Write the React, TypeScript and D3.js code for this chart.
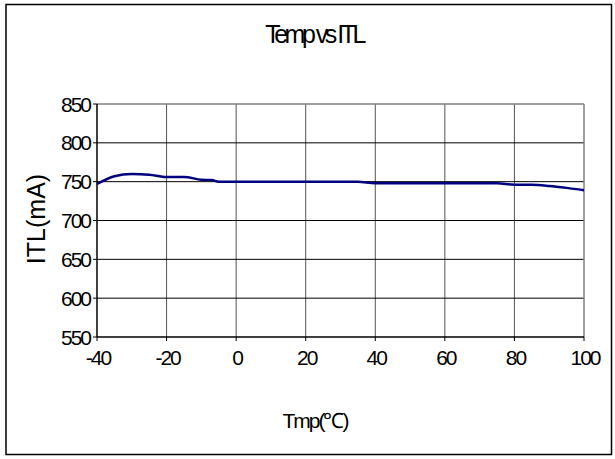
import React from "react";
import * as d3 from "d3";

const temps = [-40, -35, -30, -25, -20, -15, -10, -7, -5, 0, 5, 10, 15, 20, 25, 30, 35, 40, 45, 50, 55, 60, 65, 70, 75, 80, 85, 90, 95, 100];
const itl = [747, 757, 760, 759, 756, 756, 752.5, 752, 750, 750, 750, 750, 750, 750, 750, 750, 750, 748, 748, 748, 748, 748, 748, 748, 748, 746, 746, 744.5, 742, 739];
const xTicks = [-40, -20, 0, 20, 40, 60, 80, 100];
const yTicks = [550, 600, 650, 700, 750, 800, 850];
const title = "Temp vs ITL";
const xTitle = "Tmp(℃)";
const yTitle = "ITL(mA)";

const W = 615, H = 459;
const L = 97, R = 584, T = 104, B = 337;

export default function App() {
  const x = d3.scaleLinear().domain([-40, 100]).range([L, R]);
  const y = d3.scaleLinear().domain([550, 850]).range([B, T]);
  const line = d3.line<number>()
    .x((_, i) => x(temps[i]))
    .y((d) => y(d))
    .curve(d3.curveMonotoneX);
  const font = "'Liberation Sans', Arial, sans-serif";
  return (
    <svg width={W} height={H} style={{ position: "absolute", left: 0, top: 0 }}>
      <rect x={0} y={0} width={W} height={H} fill="#fff" />
      <rect x={6} y={4.5} width={605.5} height={450} fill="none" stroke="#000" strokeWidth={1.5} />
      <text x={314} y={43} textAnchor="middle" fontFamily={font} fontSize={25} letterSpacing={-3.5} fill="#000">{title}</text>
      {xTicks.slice(1, -1).map((t) => (
        <line key={"vx" + t} x1={x(t)} x2={x(t)} y1={T} y2={B} stroke="#555" strokeWidth={1} />
      ))}
      {yTicks.slice(1, -1).map((t) => (
        <line key={"hy" + t} x1={L} x2={R} y1={y(t)} y2={y(t)} stroke="#000" strokeWidth={1} />
      ))}
      <line x1={L} x2={R} y1={T} y2={T} stroke="#808080" strokeWidth={1.5} />
      <line x1={R} x2={R} y1={T} y2={B} stroke="#808080" strokeWidth={1.5} />
      <line x1={L} x2={L} y1={T} y2={B} stroke="#000" strokeWidth={1.5} />
      <line x1={L} x2={R} y1={B} y2={B} stroke="#000" strokeWidth={1.5} />
      {yTicks.map((t) => (
        <line key={"ty" + t} x1={L - 4} x2={L} y1={y(t)} y2={y(t)} stroke="#000" strokeWidth={1} />
      ))}
      {xTicks.map((t) => (
        <line key={"tx" + t} x1={x(t)} x2={x(t)} y1={B} y2={B + 4} stroke="#000" strokeWidth={1} />
      ))}
      {yTicks.map((t) => (
        <text key={"ly" + t} x={L - 7} y={y(t) + 7.5} textAnchor="end" fontFamily={font} fontSize={21} letterSpacing={-2} fill="#000">{t}</text>
      ))}
      {xTicks.map((t) => (
        <text key={"lx" + t} x={x(t) + 1} y={364.5} textAnchor="middle" fontFamily={font} fontSize={21} letterSpacing={-2} fill="#000">{t}</text>
      ))}
      <text x={315} y={428} textAnchor="middle" fontFamily={font} fontSize={21} letterSpacing={-2} fill="#000">{xTitle}</text>
      <text transform={`translate(45,219) rotate(-90)`} textAnchor="middle" fontFamily={font} fontSize={25} fill="#000">{yTitle}</text>
      <path d={line(itl) || ""} fill="none" stroke="#000080" strokeWidth={2.5} />
    </svg>
  );
}
